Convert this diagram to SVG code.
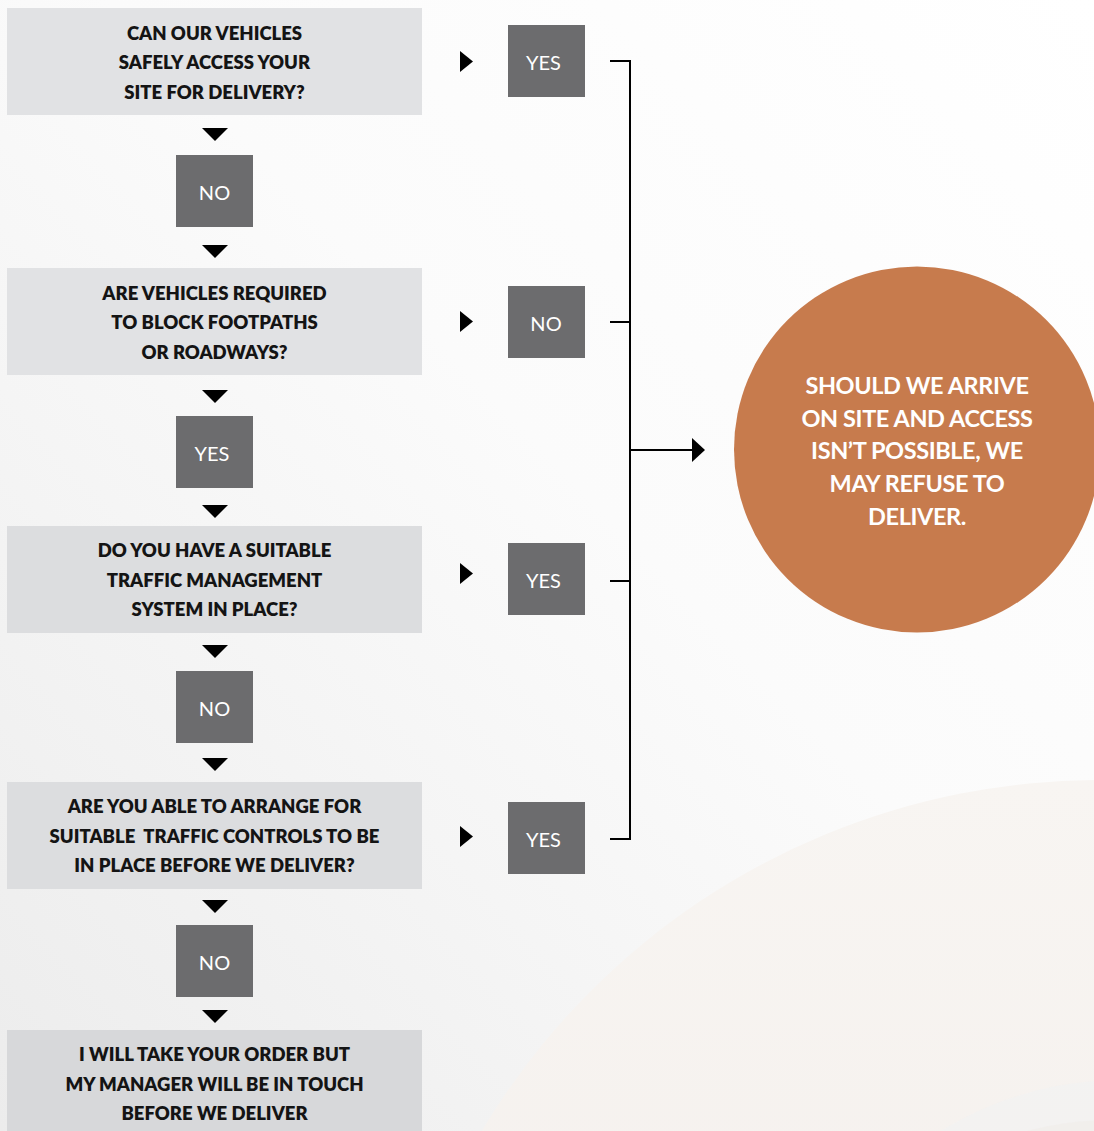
<svg xmlns="http://www.w3.org/2000/svg" width="1094" height="1131" viewBox="0 0 1094 1131">
<defs>
<linearGradient id="bg" x1="1" y1="0" x2="0" y2="1">
<stop offset="0" stop-color="#ffffff"/>
<stop offset="0.45" stop-color="#fbfbfb"/>
<stop offset="1" stop-color="#ececec"/>
</linearGradient>
<linearGradient id="arc" x1="0" y1="0" x2="0" y2="1">
<stop offset="0" stop-color="#f8f5f2"/>
<stop offset="1" stop-color="#efe9e5"/>
</linearGradient>
<style>
.q{fill:#e1e2e4}
.q2{fill:#dcdddf}
.q3{fill:#d7d8da}
.g{fill:#6c6c6e}
.qt{font-family:"Lato","Liberation Sans",sans-serif;font-weight:800;font-size:18.5px;fill:#141414;text-anchor:middle;letter-spacing:0px}
.gt{font-family:"Lato","Liberation Sans",sans-serif;font-weight:400;font-size:20px;fill:#ffffff;text-anchor:middle}
.ct{font-family:"Lato","Liberation Sans",sans-serif;font-weight:700;font-size:23.5px;fill:#ffffff;text-anchor:middle;letter-spacing:-0.4px}
.tri{fill:#000000}
.ln{stroke:#000000;stroke-width:2;fill:none}
</style>
</defs>
<rect width="1094" height="1131" fill="url(#bg)"/>
<circle cx="1100" cy="1500" r="720" fill="url(#arc)"/>
<circle cx="1120" cy="1420" r="340" fill="#f2f2f2" opacity="0.7"/>
<circle cx="1110" cy="1440" r="320" fill="#f0ece9" opacity="0.6"/>

<g id="q1"><rect class="q" x="7" y="8" width="415" height="107"/>
<text class="qt" x="214.5" y="40">CAN OUR VEHICLES</text>
<text class="qt" x="214.5" y="69">SAFELY ACCESS YOUR</text>
<text class="qt" x="214.5" y="99">SITE FOR DELIVERY?</text></g>

<g id="q2"><rect class="q" x="7" y="268" width="415" height="107"/>
<text class="qt" x="214.5" y="300">ARE VEHICLES REQUIRED</text>
<text class="qt" x="214.5" y="329">TO BLOCK FOOTPATHS</text>
<text class="qt" x="214.5" y="359">OR ROADWAYS?</text></g>

<g id="q3"><rect class="q2" x="7" y="526" width="415" height="107"/>
<text class="qt" x="214.5" y="557">DO YOU HAVE A SUITABLE</text>
<text class="qt" x="214.5" y="587">TRAFFIC MANAGEMENT</text>
<text class="qt" x="214.5" y="616">SYSTEM IN PLACE?</text></g>

<g id="q4"><rect class="q2" x="7" y="782" width="415" height="107"/>
<text class="qt" x="214.5" y="813">ARE YOU ABLE TO ARRANGE FOR</text>
<text class="qt" x="214.5" y="843" xml:space="preserve">SUITABLE  TRAFFIC CONTROLS TO BE</text>
<text class="qt" x="214.5" y="872">IN PLACE BEFORE WE DELIVER?</text></g>

<g id="q5"><rect class="q3" x="7" y="1030" width="415" height="101"/>
<text class="qt" x="214.5" y="1061">I WILL TAKE YOUR ORDER BUT</text>
<text class="qt" x="214.5" y="1091">MY MANAGER WILL BE IN TOUCH</text>
<text class="qt" x="214.5" y="1120">BEFORE WE DELIVER</text></g>

<g id="a1"><rect class="g" x="176" y="155" width="77" height="72"/><text class="gt" x="214.5" y="200">NO</text></g>
<g id="a2"><rect class="g" x="176" y="416" width="77" height="72"/><text class="gt" x="212" y="461">YES</text></g>
<g id="a3"><rect class="g" x="176" y="671" width="77" height="72"/><text class="gt" x="214.5" y="716">NO</text></g>
<g id="a4"><rect class="g" x="176" y="925" width="77" height="72"/><text class="gt" x="214.5" y="970">NO</text></g>

<g id="b1"><rect class="g" x="508" y="25" width="77" height="72"/><text class="gt" x="543.5" y="70">YES</text></g>
<g id="b2"><rect class="g" x="508" y="286" width="77" height="72"/><text class="gt" x="546" y="331">NO</text></g>
<g id="b3"><rect class="g" x="508" y="543" width="77" height="72"/><text class="gt" x="543.5" y="588">YES</text></g>
<g id="b4"><rect class="g" x="508" y="802" width="77" height="72"/><text class="gt" x="543.5" y="847">YES</text></g>

<g id="result"><circle cx="917" cy="449.5" r="183" fill="#c77b4d"/>
<text class="ct" x="917" y="394">SHOULD WE ARRIVE</text>
<text class="ct" x="917" y="427">ON SITE AND ACCESS</text>
<text class="ct" x="917" y="459">ISN’T POSSIBLE, WE</text>
<text class="ct" x="917" y="492">MAY REFUSE TO</text>
<text class="ct" x="917" y="525">DELIVER.</text></g>

<g id="connectors">
<polygon class="tri" points="202,128 228,128 215,141"/>
<polygon class="tri" points="202,245 228,245 215,258"/>
<polygon class="tri" points="202,390 228,390 215,403"/>
<polygon class="tri" points="202,505 228,505 215,518"/>
<polygon class="tri" points="202,645 228,645 215,658"/>
<polygon class="tri" points="202,758 228,758 215,771"/>
<polygon class="tri" points="202,900 228,900 215,913"/>
<polygon class="tri" points="202,1010 228,1010 215,1023"/>
<polygon class="tri" points="460,51 473,61.5 460,72"/>
<polygon class="tri" points="460,311 473,321.5 460,332"/>
<polygon class="tri" points="460,563 473,573.5 460,584"/>
<polygon class="tri" points="460,826 473,836.5 460,847"/>
<path class="ln" d="M610,61 H630 V839 H610 M610,322 H630 M610,581 H630 M630,450 H692"/>
<polygon class="tri" points="692,438 705,450 692,462"/>
</g>
</svg>
